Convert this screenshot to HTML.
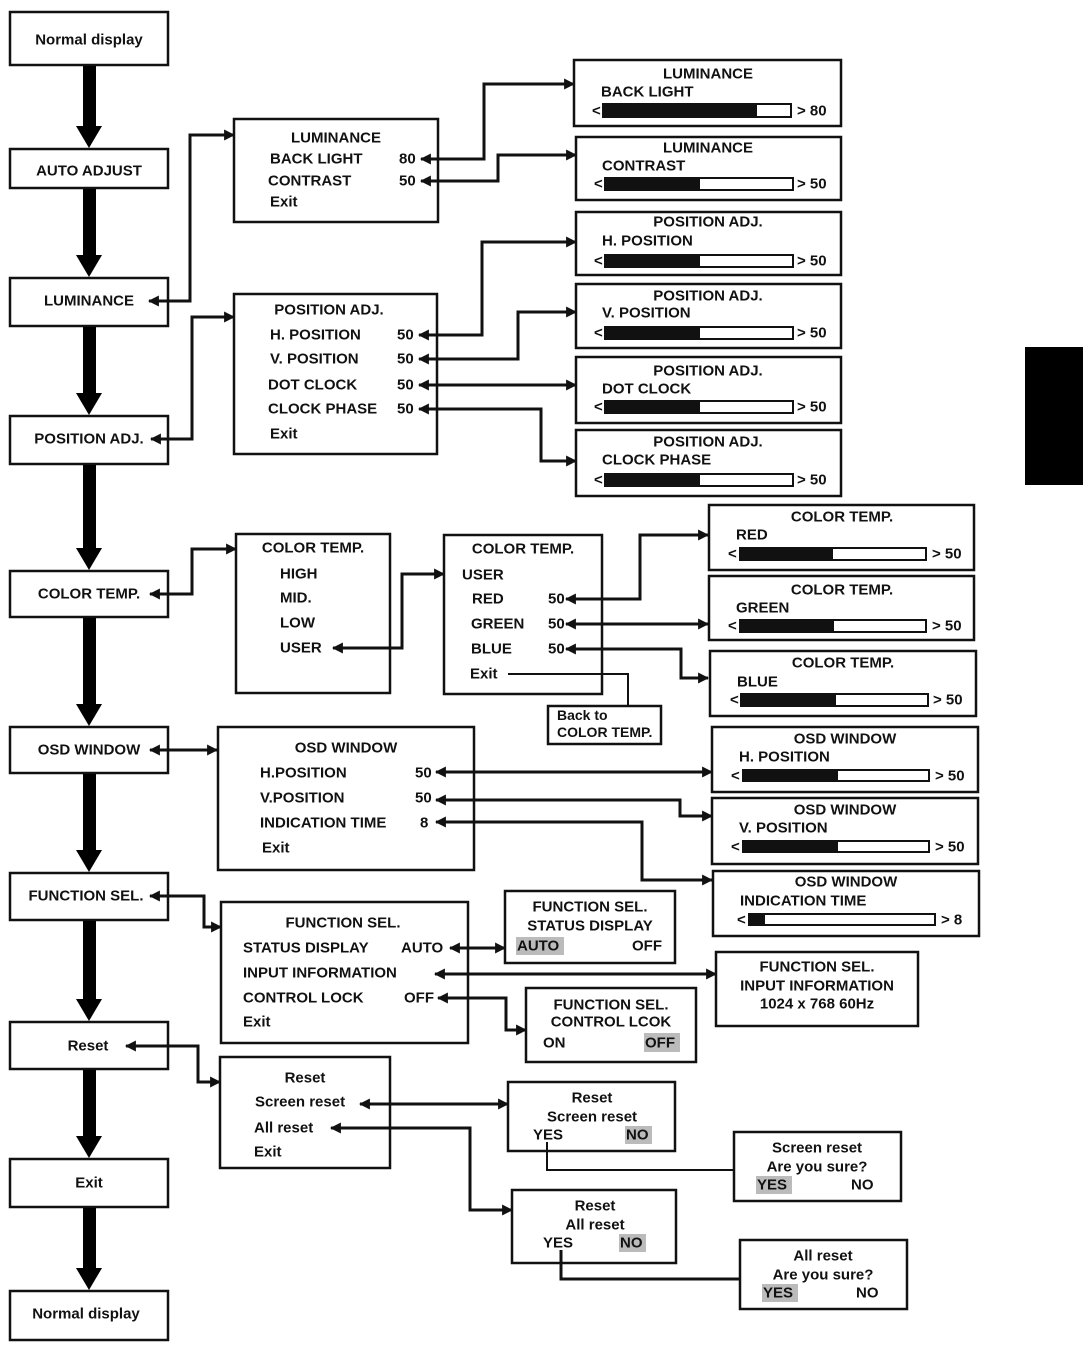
<!DOCTYPE html>
<html><head><meta charset="utf-8"><style>
html,body{margin:0;padding:0;background:#fff;}
svg{display:block;}
text{font-family:"Liberation Sans",Arial,sans-serif;font-weight:bold;font-size:15px;fill:#111;dominant-baseline:central;}
.c{text-anchor:middle;}
.b{fill:#fff;stroke:#111;stroke-width:2.5;}
.l{fill:none;stroke:#111;stroke-width:3;}
.t{fill:none;stroke:#111;stroke-width:2;}
.hl{fill:#bbb;}
</style></head><body>
<svg width="1083" height="1354" viewBox="0 0 1083 1354" xmlns="http://www.w3.org/2000/svg">
<defs>
<marker id="a" viewBox="0 0 10 10" refX="9" refY="5" markerWidth="11" markerHeight="11" markerUnits="userSpaceOnUse" orient="auto-start-reverse"><path d="M0,0 L10,5 L0,10 Z" fill="#111"/></marker>
</defs>
<rect x="1025" y="347" width="58" height="138" fill="#000"/>

<!-- left column -->
<g>
<rect class="b" x="10" y="12" width="158" height="53"/><text class="c" x="89" y="40">Normal display</text>
<rect class="b" x="10" y="149" width="158" height="39"/><text class="c" x="89" y="171">AUTO ADJUST</text>
<rect class="b" x="10" y="278" width="158" height="48"/><text class="c" x="89" y="301">LUMINANCE</text>
<rect class="b" x="10" y="416" width="158" height="48"/><text class="c" x="89" y="439">POSITION ADJ.</text>
<rect class="b" x="10" y="571" width="158" height="46"/><text class="c" x="89" y="594">COLOR TEMP.</text>
<rect class="b" x="10" y="727" width="158" height="46"/><text class="c" x="89" y="750">OSD WINDOW</text>
<rect class="b" x="10" y="873" width="158" height="47"/><text class="c" x="86" y="896">FUNCTION SEL.</text>
<rect class="b" x="10" y="1022" width="158" height="47"/><text class="c" x="88" y="1046">Reset</text>
<rect class="b" x="10" y="1159" width="158" height="48"/><text class="c" x="89" y="1183">Exit</text>
<rect class="b" x="10" y="1291" width="158" height="49"/><text class="c" x="86" y="1314">Normal display</text>
</g>
<g fill="#000">
<rect x="83" y="66" width="13" height="62"/><path d="M76,126 L102,126 L89,148Z"/>
<rect x="83" y="189" width="13" height="68"/><path d="M76,255 L102,255 L89,277Z"/>
<rect x="83" y="327" width="13" height="68"/><path d="M76,393 L102,393 L89,415Z"/>
<rect x="83" y="465" width="13" height="84"/><path d="M76,548 L102,548 L89,570Z"/>
<rect x="83" y="618" width="13" height="88"/><path d="M76,704 L102,704 L89,726Z"/>
<rect x="83" y="774" width="13" height="78"/><path d="M76,850 L102,850 L89,872Z"/>
<rect x="83" y="921" width="13" height="80"/><path d="M76,999 L102,999 L89,1021Z"/>
<rect x="83" y="1070" width="13" height="68"/><path d="M76,1136 L102,1136 L89,1158Z"/>
<rect x="83" y="1208" width="13" height="62"/><path d="M76,1268 L102,1268 L89,1290Z"/>
</g>

<!-- LUMINANCE -->
<rect class="b" x="234" y="119" width="204" height="103"/>
<text class="c" x="336" y="138">LUMINANCE</text>
<text x="270" y="159">BACK LIGHT</text><text x="399" y="159">80</text>
<text x="268" y="181">CONTRAST</text><text x="399" y="181">50</text>
<text x="270" y="202">Exit</text>
<path class="l" d="M234,135 H190 V301 H149" marker-start="url(#a)" marker-end="url(#a)"/>
<path class="l" d="M574,84 H484 V159 H421" marker-start="url(#a)" marker-end="url(#a)"/>
<path class="l" d="M576,155 H498 V181 H421" marker-start="url(#a)" marker-end="url(#a)"/>

<rect class="b" x="574" y="60" width="267" height="66"/>
<text class="c" x="708" y="74">LUMINANCE</text><text x="601" y="92">BACK LIGHT</text>
<text x="592" y="111">&lt;</text><rect class="t" x="603" y="104" width="188" height="13"/><rect x="603" y="104" width="154" height="13" fill="#111"/><text x="797" y="111">&gt; 80</text>
<rect class="b" x="576" y="137" width="265" height="63"/>
<text class="c" x="708" y="148">LUMINANCE</text><text x="602" y="166">CONTRAST</text>
<text x="594" y="184">&lt;</text><rect class="t" x="605" y="178" width="188" height="12"/><rect x="605" y="178" width="95" height="12" fill="#111"/><text x="797" y="184">&gt; 50</text>

<!-- POSITION -->
<rect class="b" x="234" y="294" width="203" height="160"/>
<text class="c" x="329" y="310">POSITION ADJ.</text>
<text x="270" y="335">H. POSITION</text><text x="397" y="335">50</text>
<text x="270" y="359">V. POSITION</text><text x="397" y="359">50</text>
<text x="268" y="385">DOT CLOCK</text><text x="397" y="385">50</text>
<text x="268" y="409">CLOCK PHASE</text><text x="397" y="409">50</text>
<text x="270" y="434">Exit</text>
<path class="l" d="M234,317 H192 V439 H151" marker-start="url(#a)" marker-end="url(#a)"/>
<path class="l" d="M576,242 H482 V335 H419" marker-start="url(#a)" marker-end="url(#a)"/>
<path class="l" d="M576,312 H518 V359 H419" marker-start="url(#a)" marker-end="url(#a)"/>
<path class="l" d="M576,385 H419" marker-start="url(#a)" marker-end="url(#a)"/>
<path class="l" d="M576,461 H541 V409 H419" marker-start="url(#a)" marker-end="url(#a)"/>

<g>
<rect class="b" x="576" y="212" width="265" height="63"/><text class="c" x="708" y="222">POSITION ADJ.</text><text x="602" y="241">H. POSITION</text>
<text x="594" y="261">&lt;</text><rect class="t" x="605" y="255" width="188" height="12"/><rect x="605" y="255" width="95" height="12" fill="#111"/><text x="797" y="261">&gt; 50</text>
<rect class="b" x="576" y="284" width="265" height="64"/><text class="c" x="708" y="296">POSITION ADJ.</text><text x="602" y="313">V. POSITION</text>
<text x="594" y="333">&lt;</text><rect class="t" x="605" y="327" width="188" height="12"/><rect x="605" y="327" width="95" height="12" fill="#111"/><text x="797" y="333">&gt; 50</text>
<rect class="b" x="576" y="357" width="265" height="66"/><text class="c" x="708" y="371">POSITION ADJ.</text><text x="602" y="389">DOT CLOCK</text>
<text x="594" y="407">&lt;</text><rect class="t" x="605" y="401" width="188" height="12"/><rect x="605" y="401" width="95" height="12" fill="#111"/><text x="797" y="407">&gt; 50</text>
<rect class="b" x="576" y="430" width="265" height="66"/><text class="c" x="708" y="442">POSITION ADJ.</text><text x="602" y="460">CLOCK PHASE</text>
<text x="594" y="480">&lt;</text><rect class="t" x="605" y="474" width="188" height="12"/><rect x="605" y="474" width="95" height="12" fill="#111"/><text x="797" y="480">&gt; 50</text>
</g>

<!-- COLOR TEMP -->
<rect class="b" x="236" y="534" width="154" height="159"/>
<text class="c" x="313" y="548">COLOR TEMP.</text>
<text x="280" y="574">HIGH</text><text x="280" y="598">MID.</text><text x="280" y="623">LOW</text><text x="280" y="648">USER</text>
<path class="l" d="M236,549 H192 V594 H150" marker-start="url(#a)" marker-end="url(#a)"/>
<path class="l" d="M444,574 H402 V648 H333" marker-start="url(#a)" marker-end="url(#a)"/>
<rect class="b" x="444" y="535" width="158" height="159"/>
<text class="c" x="523" y="549">COLOR TEMP.</text>
<text x="462" y="575">USER</text>
<text x="472" y="599">RED</text><text x="548" y="599">50</text>
<text x="471" y="624">GREEN</text><text x="548" y="624">50</text>
<text x="471" y="649">BLUE</text><text x="548" y="649">50</text>
<text x="470" y="674">Exit</text>
<path class="t" d="M508,674 H628 V706"/>
<rect class="b" x="548" y="706" width="113" height="38"/>
<text x="557" y="715" style="font-size:14px">Back to</text><text x="557" y="732" style="font-size:14px">COLOR TEMP.</text>
<path class="l" d="M708,535 H640 V599 H566" marker-start="url(#a)" marker-end="url(#a)"/>
<path class="l" d="M708,624 H566" marker-start="url(#a)" marker-end="url(#a)"/>
<path class="l" d="M708,678 H681 V649 H566" marker-start="url(#a)" marker-end="url(#a)"/>
<g>
<rect class="b" x="709" y="505" width="265" height="65"/><text class="c" x="842" y="517">COLOR TEMP.</text><text x="736" y="535">RED</text>
<text x="728" y="554">&lt;</text><rect class="t" x="740" y="548" width="186" height="12"/><rect x="740" y="548" width="93" height="12" fill="#111"/><text x="932" y="554">&gt; 50</text>
<rect class="b" x="709" y="576" width="265" height="64"/><text class="c" x="842" y="590">COLOR TEMP.</text><text x="736" y="608">GREEN</text>
<text x="728" y="626">&lt;</text><rect class="t" x="740" y="620" width="186" height="12"/><rect x="740" y="620" width="94" height="12" fill="#111"/><text x="932" y="626">&gt; 50</text>
<rect class="b" x="710" y="651" width="266" height="65"/><text class="c" x="843" y="663">COLOR TEMP.</text><text x="737" y="682">BLUE</text>
<text x="730" y="700">&lt;</text><rect class="t" x="741" y="694" width="187" height="12"/><rect x="741" y="694" width="95" height="12" fill="#111"/><text x="933" y="700">&gt; 50</text>
</g>

<!-- OSD -->
<rect class="b" x="218" y="727" width="256" height="143"/>
<text class="c" x="346" y="748">OSD WINDOW</text>
<text x="260" y="773">H.POSITION</text><text x="415" y="773">50</text>
<text x="260" y="798">V.POSITION</text><text x="415" y="798">50</text>
<text x="260" y="823">INDICATION TIME</text><text x="420" y="823">8</text>
<text x="262" y="848">Exit</text>
<path class="l" d="M217,750 H150" marker-start="url(#a)" marker-end="url(#a)"/>
<path class="l" d="M712,772 H436" marker-start="url(#a)" marker-end="url(#a)"/>
<path class="l" d="M712,816 H680 V800 H436" marker-start="url(#a)" marker-end="url(#a)"/>
<path class="l" d="M712,880 H642 V822 H436" marker-start="url(#a)" marker-end="url(#a)"/>
<g>
<rect class="b" x="712" y="727" width="266" height="65"/><text class="c" x="845" y="739">OSD WINDOW</text><text x="739" y="757">H. POSITION</text>
<text x="731" y="776">&lt;</text><rect class="t" x="743" y="770" width="186" height="11"/><rect x="743" y="770" width="95" height="11" fill="#111"/><text x="935" y="776">&gt; 50</text>
<rect class="b" x="712" y="798" width="266" height="66"/><text class="c" x="845" y="810">OSD WINDOW</text><text x="739" y="828">V. POSITION</text>
<text x="731" y="847">&lt;</text><rect class="t" x="743" y="841" width="186" height="11"/><rect x="743" y="841" width="95" height="11" fill="#111"/><text x="935" y="847">&gt; 50</text>
<rect class="b" x="713" y="871" width="266" height="65"/><text class="c" x="846" y="882">OSD WINDOW</text><text x="740" y="901">INDICATION TIME</text>
<text x="737" y="920">&lt;</text><rect class="t" x="749" y="914" width="186" height="11"/><rect x="749" y="914" width="16" height="11" fill="#111"/><text x="941" y="920">&gt; 8</text>
</g>

<!-- FUNCTION SEL -->
<rect class="b" x="221" y="902" width="247" height="141"/>
<text class="c" x="343" y="923">FUNCTION SEL.</text>
<text x="243" y="948">STATUS DISPLAY</text><text x="401" y="948">AUTO</text>
<text x="243" y="973">INPUT INFORMATION</text>
<text x="243" y="998">CONTROL LOCK</text><text x="404" y="998">OFF</text>
<text x="243" y="1022">Exit</text>
<path class="l" d="M221,927 H204 V896 H150" marker-start="url(#a)" marker-end="url(#a)"/>
<path class="l" d="M505,948 H450" marker-start="url(#a)" marker-end="url(#a)"/>
<path class="l" d="M716,974 H435" marker-start="url(#a)" marker-end="url(#a)"/>
<path class="l" d="M526,1030 H506 V998 H438" marker-start="url(#a)" marker-end="url(#a)"/>
<rect class="b" x="505" y="891" width="170" height="72"/>
<text class="c" x="590" y="907">FUNCTION SEL.</text><text class="c" x="590" y="926">STATUS DISPLAY</text>
<rect class="hl" x="516" y="937" width="48" height="18"/><text x="517" y="946">AUTO</text><text x="632" y="946">OFF</text>
<rect class="b" x="716" y="952" width="202" height="74"/>
<text class="c" x="817" y="967">FUNCTION SEL.</text><text class="c" x="817" y="986">INPUT INFORMATION</text><text class="c" x="817" y="1004">1024 x 768 60Hz</text>
<rect class="b" x="526" y="988" width="170" height="74"/>
<text class="c" x="611" y="1005">FUNCTION SEL.</text><text class="c" x="611" y="1022">CONTROL LCOK</text>
<text x="543" y="1043">ON</text><rect class="hl" x="644" y="1033" width="36" height="19"/><text x="645" y="1043">OFF</text>

<!-- RESET -->
<rect class="b" x="220" y="1057" width="170" height="111"/>
<text class="c" x="305" y="1078">Reset</text>
<text x="255" y="1102">Screen reset</text>
<text x="254" y="1128">All reset</text>
<text x="254" y="1152">Exit</text>
<path class="l" d="M220,1082 H198 V1046 H126" marker-start="url(#a)" marker-end="url(#a)"/>
<path class="l" d="M508,1104 H360" marker-start="url(#a)" marker-end="url(#a)"/>
<path class="l" d="M512,1210 H470 V1128 H331" marker-start="url(#a)" marker-end="url(#a)"/>
<rect class="b" x="508" y="1082" width="167" height="69"/>
<text class="c" x="592" y="1098">Reset</text><text class="c" x="592" y="1117">Screen reset</text>
<rect class="hl" x="625" y="1126" width="27" height="18"/><text x="626" y="1135">NO</text><text x="533" y="1135">YES</text>
<path class="t" d="M547,1142 V1170 H734"/>
<rect class="b" x="734" y="1132" width="167" height="69"/>
<text class="c" x="817" y="1148">Screen reset</text><text class="c" x="817" y="1167">Are you sure?</text>
<rect class="hl" x="756" y="1176" width="36" height="18"/><text x="757" y="1185">YES</text><text x="851" y="1185">NO</text>
<rect class="b" x="512" y="1190" width="164" height="73"/>
<text class="c" x="595" y="1206">Reset</text><text class="c" x="595" y="1225">All reset</text>
<rect class="hl" x="619" y="1234" width="27" height="18"/><text x="620" y="1243">NO</text><text x="543" y="1243">YES</text>
<path class="l" d="M561,1250 V1279 H740"/>
<rect class="b" x="740" y="1240" width="167" height="69"/>
<text class="c" x="823" y="1256">All reset</text><text class="c" x="823" y="1275">Are you sure?</text>
<rect class="hl" x="762" y="1284" width="36" height="18"/><text x="763" y="1293">YES</text><text x="856" y="1293">NO</text>
</svg>
</body></html>
